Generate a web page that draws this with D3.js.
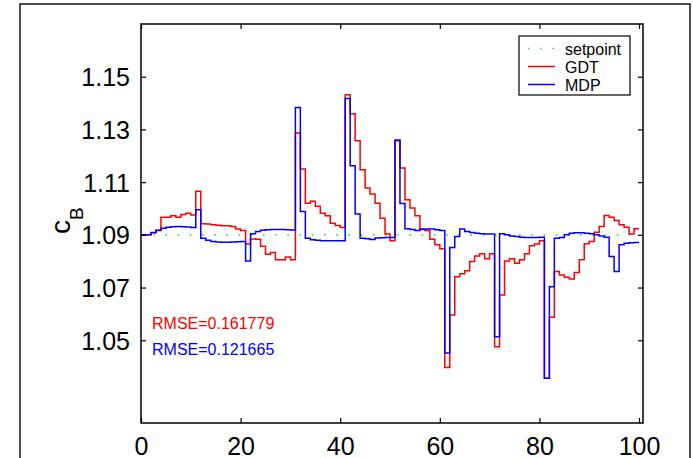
<!DOCTYPE html>
<html>
<head>
<meta charset="utf-8">
<script src="https://cdn.jsdelivr.net/npm/d3@7"></script>
<style>
  html, body { margin: 0; padding: 0; background: #fff; }
  svg { display: block; font-family: "Liberation Sans", Arial, sans-serif; }
</style>
</head>
<body>
<svg id="chart" width="693" height="458"></svg>
<script>
// ---------------- data ----------------
const setpoint = 1.09;
const gdt = [
  1.0900, 1.0900, 1.0908, 1.0916, 1.0967, 1.0967, 1.0972, 1.0967, 1.0977, 1.0982,
  1.0975, 1.1065, 1.0942, 1.0941, 1.0938, 1.0936, 1.0934, 1.0934, 1.0932, 1.0922,
  1.0916, 1.0865, 1.0884, 1.0883, 1.0857, 1.0826, 1.0833, 1.0805, 1.0805, 1.0816,
  1.0805, 1.1286, 1.1150, 1.1020, 1.1027, 1.1008, 1.0982, 1.0972, 1.0944, 1.0935,
  1.0928, 1.1432, 1.1359, 1.1257, 1.1147, 1.1078, 1.1055, 1.1020, 1.0963, 1.0903,
  1.0878, 1.1257, 1.1154, 1.1033, 1.1002, 1.0972, 1.0920, 1.0916, 1.0883, 1.0862,
  1.0847, 1.0397, 1.0596, 1.0741, 1.0752, 1.0764, 1.0799, 1.0820, 1.0828, 1.0809,
  1.0828, 1.0475, 1.0672, 1.0801, 1.0809, 1.0792, 1.0805, 1.0828, 1.0859, 1.0865,
  1.0878, 1.0356, 1.0587, 1.0761, 1.0748, 1.0739, 1.0732, 1.0757, 1.0805, 1.0866,
  1.0875, 1.0910, 1.0932, 1.0973, 1.0967, 1.0954, 1.0938, 1.0929, 1.0903, 1.0923
];
const mdp = [
  1.0900, 1.0900, 1.0909, 1.0917, 1.0925, 1.0929, 1.0931, 1.0932, 1.0931, 1.0930,
  1.0928, 1.0995, 1.0887, 1.0879, 1.0875, 1.0873, 1.0872, 1.0872, 1.0873, 1.0874,
  1.0875, 1.0801, 1.0904, 1.0913, 1.0917, 1.0919, 1.0920, 1.0920, 1.0920, 1.0919,
  1.0918, 1.1383, 1.0989, 1.0887, 1.0881, 1.0879, 1.0878, 1.0878, 1.0878, 1.0878,
  1.0878, 1.1417, 1.1162, 1.0979, 1.0887, 1.0885, 1.0882, 1.0888, 1.0889, 1.0890,
  1.0890, 1.1260, 1.1019, 1.0923, 1.0920, 1.0916, 1.0922, 1.0922, 1.0922, 1.0919,
  1.0916, 1.0452, 1.0852, 1.0894, 1.0922, 1.0913, 1.0909, 1.0906, 1.0904, 1.0903,
  1.0903, 1.0513, 1.0904, 1.0900, 1.0896, 1.0894, 1.0891, 1.0890, 1.0890, 1.0890,
  1.0891, 1.0356, 1.0703, 1.0887, 1.0890, 1.0900, 1.0906, 1.0908, 1.0908, 1.0906,
  1.0904, 1.0900, 1.0896, 1.0891, 1.0818, 1.0761, 1.0862, 1.0868, 1.0870, 1.0871
];
const xTicks = [0, 20, 40, 60, 80, 100];
const yTicks = [1.05, 1.07, 1.09, 1.11, 1.13, 1.15];
const seriesNames = ["setpoint", "GDT", "MDP"];
const rmseLabels = ["RMSE=0.161779", "RMSE=0.121665"];

// ---------------- layout ----------------
const svg = d3.select("#chart");
const L = 141, R = 643, T = 24, B = 423;
const x = d3.scaleLinear().domain([0, 100.8]).range([L, R]);
const y = d3.scaleLinear().domain([1.0186, 1.17]).range([B, T]);
const colors = { setpoint: "#3ee03e", GDT: "#ff0000", MDP: "#0000ff" };

// outer figure frame
svg.append("rect").attr("x", 20).attr("y", 4).attr("width", 670).attr("height", 520)
  .attr("fill", "none").attr("stroke", "#222").attr("stroke-width", 1.6);

// clip
svg.append("clipPath").attr("id", "clip").append("rect")
  .attr("x", L).attr("y", T).attr("width", R - L).attr("height", B - T);

const plot = svg.append("g").attr("clip-path", "url(#clip)");

// setpoint
plot.append("line")
  .attr("x1", x(0)).attr("x2", x(100))
  .attr("y1", y(setpoint)).attr("y2", y(setpoint))
  .attr("stroke", colors.setpoint).attr("stroke-width", 1.6)
  .attr("stroke-dasharray", "1.6 10.6");

function stairsData(arr) {
  const pts = arr.map((v, i) => [i, v]);
  pts.push([arr.length, arr[arr.length - 1]]);
  return pts;
}
const line = d3.line().x(d => x(d[0])).y(d => y(d[1])).curve(d3.curveStepAfter);

plot.append("path").datum(stairsData(gdt)).attr("d", line)
  .attr("fill", "none").attr("stroke", colors.GDT).attr("stroke-width", 1.5);
plot.append("path").datum(stairsData(mdp)).attr("d", line)
  .attr("fill", "none").attr("stroke", colors.MDP).attr("stroke-width", 1.5);

// axes box
svg.append("rect").attr("x", L).attr("y", T).attr("width", R - L).attr("height", B - T)
  .attr("fill", "none").attr("stroke", "#000").attr("stroke-width", 1.5);

// axes (ticks inward)
const tickLen = 5;
const xAxisB = d3.axisBottom(x).tickValues(xTicks).tickSizeInner(-tickLen).tickSizeOuter(0).tickPadding(0);
const gxb = svg.append("g").attr("transform", `translate(0,${B})`).call(xAxisB);
gxb.select(".domain").remove();
gxb.selectAll(".tick line").attr("stroke", "#000").attr("stroke-width", 1.2);
gxb.selectAll(".tick text").attr("y", 32).attr("dy", null)
  .attr("font-size", 25).attr("font-family", "Liberation Sans, Arial, sans-serif").attr("fill", "#000");

const xAxisT = d3.axisTop(x).tickValues(xTicks).tickSizeInner(-tickLen).tickSizeOuter(0).tickFormat("");
const gxt = svg.append("g").attr("transform", `translate(0,${T})`).call(xAxisT);
gxt.select(".domain").remove();
gxt.selectAll(".tick line").attr("stroke", "#000").attr("stroke-width", 1.2);

const yAxisL = d3.axisLeft(y).tickValues(yTicks).tickSizeInner(-tickLen).tickSizeOuter(0)
  .tickFormat(d3.format(".2f")).tickPadding(0);
const gyl = svg.append("g").attr("transform", `translate(${L},0)`).call(yAxisL);
gyl.select(".domain").remove();
gyl.selectAll(".tick line").attr("stroke", "#000").attr("stroke-width", 1.2);
gyl.selectAll(".tick text").attr("x", -11).attr("dy", "0.36em")
  .attr("font-size", 25).attr("font-family", "Liberation Sans, Arial, sans-serif").attr("fill", "#000");

const yAxisR = d3.axisRight(y).tickValues(yTicks).tickSizeInner(-tickLen).tickSizeOuter(0).tickFormat("");
const gyr = svg.append("g").attr("transform", `translate(${R},0)`).call(yAxisR);
gyr.select(".domain").remove();
gyr.selectAll(".tick line").attr("stroke", "#000").attr("stroke-width", 1.2);

// y label c_B
const ylab = svg.append("text").attr("transform", "translate(70,234) rotate(-90)")
  .attr("fill", "#000");
ylab.append("tspan").attr("font-size", 28).text("c");
ylab.append("tspan").attr("font-size", 19).attr("dy", 13).text("B");

// RMSE texts
svg.append("text").attr("x", 152).attr("y", 329).attr("font-size", 16)
  .attr("fill", colors.GDT).text(rmseLabels[0]);
svg.append("text").attr("x", 152).attr("y", 355).attr("font-size", 16)
  .attr("fill", colors.MDP).text(rmseLabels[1]);

// legend
const lg = svg.append("g");
lg.append("rect").attr("x", 519).attr("y", 36).attr("width", 111).attr("height", 59)
  .attr("fill", "#fff").attr("stroke", "#000").attr("stroke-width", 1.2);
seriesNames.forEach((name, i) => {
  const ly = 48.5 + i * 18;
  const ln = lg.append("line").attr("x1", 528).attr("x2", 555).attr("y1", ly).attr("y2", ly)
    .attr("stroke", colors[name]).attr("stroke-width", name === "setpoint" ? 1.6 : 1.5);
  if (name === "setpoint") ln.attr("stroke-dasharray", "1.6 10.6");
  lg.append("text").attr("x", 565).attr("y", ly + 6).attr("font-size", 16)
    .attr("fill", "#000").text(name);
});
</script>
</body>
</html>
